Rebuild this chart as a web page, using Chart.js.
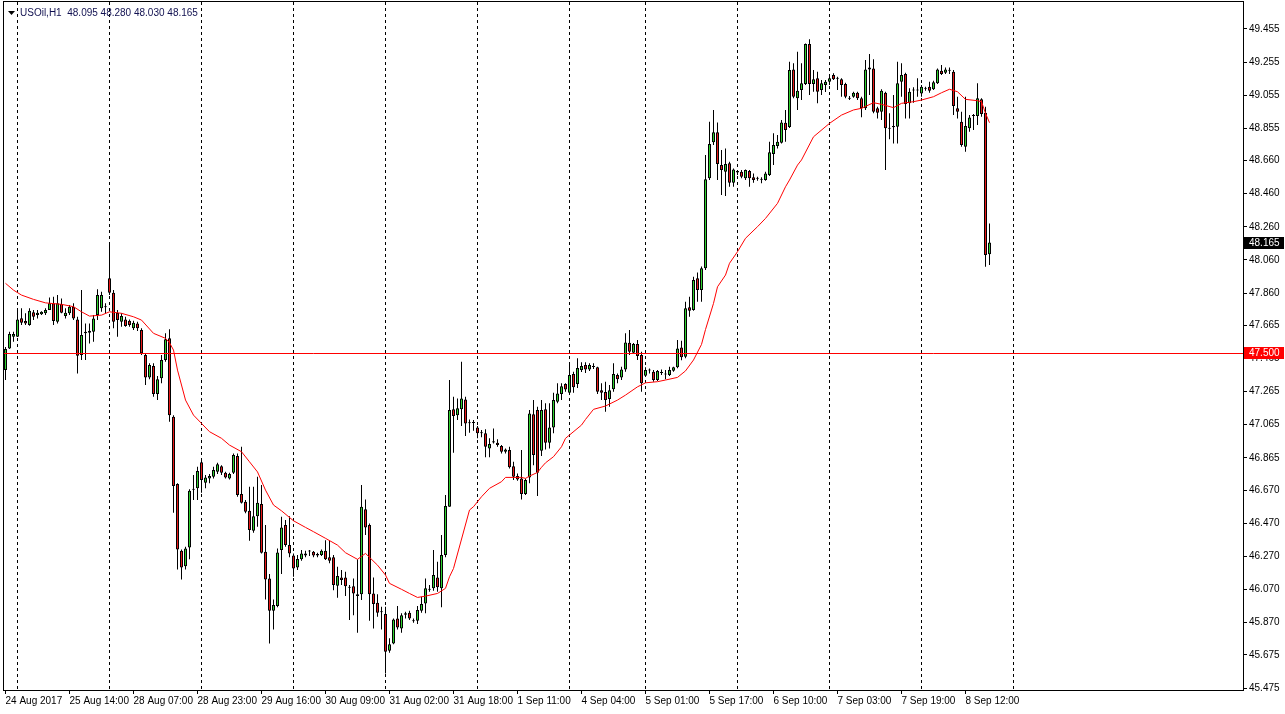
<!DOCTYPE html>
<html>
<head>
<meta charset="utf-8">
<script src="https://cdn.jsdelivr.net/npm/chart.js@4.4.0/dist/chart.umd.min.js"></script>
<style>
  html, body { margin: 0; padding: 0; background: #fff; }
  canvas { display: block; }
</style>
</head>
<body>
<canvas id="graficoUSOil" width="1285" height="714"></canvas>
<script>
// USOil H1
const headerText = 'USOil,H1  48.095 48.280 48.030 48.165';

const opens = [
  47.395, 47.526, 47.596, 47.596, 47.708, 47.691, 47.667, 47.744, 47.727, 47.733,
  47.738, 47.758, 47.798, 47.687, 47.794, 47.721, 47.738, 47.778, 47.701, 47.486,
  47.617, 47.621, 47.627, 47.727, 47.768, 47.774, 47.949, 47.862, 47.740, 47.687,
  47.701, 47.693, 47.647, 47.677, 47.637, 47.486, 47.351, 47.419, 47.250, 47.345,
  47.456, 47.587, 47.113, 46.707, 46.304, 46.211, 46.324, 46.672, 46.681, 46.838,
  46.715, 46.741, 46.751, 46.781, 46.815, 46.775, 46.741, 46.775, 46.876, 46.646,
  46.600, 46.545, 46.425, 46.513, 46.586, 46.298, 46.137, 45.942, 45.970, 46.308,
  46.459, 46.338, 46.276, 46.203, 46.252, 46.276, 46.300, 46.298, 46.284, 46.278,
  46.304, 46.264, 46.264, 46.093, 46.143, 46.143, 46.085, 46.090, 46.042, 46.042,
  46.554, 46.459, 46.046, 45.990, 45.938, 45.922, 45.700, 45.744, 45.895, 45.835,
  45.918, 45.929, 45.884, 45.881, 45.942, 45.986, 46.068, 46.077, 46.143, 46.077,
  46.278, 46.570, 47.158, 47.123, 47.158, 47.218, 47.080, 47.076, 47.049, 47.015,
  47.013, 46.922, 46.958, 46.956, 46.936, 46.902, 46.912, 46.815, 46.755, 46.741,
  46.646, 46.747, 47.129, 47.154, 46.908, 47.158, 46.956, 47.049, 47.204, 47.250,
  47.311, 47.258, 47.371, 47.311, 47.395, 47.425, 47.399, 47.419, 47.412, 47.274,
  47.262, 47.220, 47.279, 47.365, 47.351, 47.399, 47.560, 47.500, 47.552, 47.486,
  47.361, 47.397, 47.385, 47.335, 47.377, 47.375, 47.365, 47.391, 47.412, 47.532,
  47.476, 47.774, 47.758, 47.949, 47.878, 48.010, 48.553, 48.771, 48.831, 48.633,
  48.593, 48.644, 48.527, 48.597, 48.593, 48.553, 48.597, 48.559, 48.555, 48.549,
  48.543, 48.573, 48.700, 48.748, 48.768, 48.889, 48.863, 49.211, 49.036, 49.086,
  49.123, 49.364, 49.123, 49.157, 49.086, 49.117, 49.137, 49.177, 49.159, 49.151,
  49.123, 49.038, 49.046, 49.070, 49.036, 48.976, 49.223, 49.217, 48.976, 48.955,
  49.070, 48.857, 48.869, 48.865, 49.137, 49.183, 49.006, 49.088, 49.084, 49.066,
  49.094, 49.106, 49.091, 49.127, 49.203, 49.191, 49.205, 49.197, 48.976, 48.895,
  48.744, 48.855, 48.930, 48.929, 49.030, 48.949, 48.095
];
const highs = [
  47.534, 47.627, 47.627, 47.758, 47.768, 47.738, 47.768, 47.758, 47.758, 47.751,
  47.768, 47.834, 47.838, 47.848, 47.828, 47.768, 47.788, 47.798, 47.717, 47.878,
  47.677, 47.677, 47.727, 47.883, 47.868, 47.798, 48.150, 47.878, 47.758, 47.738,
  47.717, 47.701, 47.693, 47.687, 47.647, 47.496, 47.436, 47.436, 47.359, 47.486,
  47.617, 47.641, 47.123, 46.711, 46.312, 46.328, 46.675, 46.761, 46.811, 46.852,
  46.761, 46.767, 46.811, 46.835, 46.821, 46.781, 46.775, 46.892, 46.892, 46.932,
  46.610, 46.690, 46.690, 46.751, 46.701, 46.459, 46.163, 46.010, 46.318, 46.509,
  46.489, 46.513, 46.288, 46.278, 46.308, 46.304, 46.308, 46.302, 46.292, 46.312,
  46.368, 46.368, 46.278, 46.207, 46.187, 46.177, 46.097, 46.137, 46.252, 46.701,
  46.614, 46.469, 46.143, 46.042, 45.966, 45.966, 45.775, 45.895, 45.970, 45.926,
  45.935, 45.941, 45.895, 45.970, 46.026, 46.137, 46.097, 46.308, 46.238, 46.399,
  46.640, 47.335, 47.234, 47.224, 47.445, 47.234, 47.097, 47.093, 47.057, 47.033,
  47.037, 46.983, 47.043, 46.977, 46.942, 46.922, 46.932, 46.841, 46.771, 46.912,
  46.741, 47.154, 47.214, 47.174, 47.214, 47.194, 47.194, 47.258, 47.315, 47.315,
  47.315, 47.425, 47.385, 47.467, 47.443, 47.443, 47.437, 47.436, 47.415, 47.315,
  47.325, 47.305, 47.436, 47.375, 47.415, 47.617, 47.637, 47.558, 47.576, 47.506,
  47.412, 47.405, 47.395, 47.395, 47.399, 47.395, 47.415, 47.415, 47.576, 47.572,
  47.808, 47.838, 47.959, 47.984, 48.020, 48.694, 48.895, 48.966, 48.891, 48.724,
  48.734, 48.653, 48.613, 48.603, 48.603, 48.607, 48.603, 48.583, 48.563, 48.559,
  48.593, 48.774, 48.825, 48.815, 48.905, 48.966, 49.257, 49.248, 49.318, 49.248,
  49.368, 49.393, 49.207, 49.197, 49.147, 49.147, 49.167, 49.187, 49.167, 49.157,
  49.131, 49.050, 49.076, 49.076, 49.046, 49.268, 49.304, 49.272, 48.986, 49.091,
  49.076, 48.946, 49.056, 49.257, 49.248, 49.191, 49.097, 49.103, 49.157, 49.117,
  49.106, 49.137, 49.143, 49.217, 49.237, 49.223, 49.223, 49.207, 49.046, 48.955,
  49.046, 48.935, 48.941, 49.127, 49.036, 48.986, 48.280
];
const lows = [
  47.335, 47.522, 47.566, 47.595, 47.667, 47.667, 47.663, 47.697, 47.707, 47.727,
  47.727, 47.758, 47.667, 47.677, 47.738, 47.707, 47.727, 47.697, 47.375, 47.456,
  47.456, 47.556, 47.566, 47.697, 47.747, 47.738, 47.848, 47.647, 47.596, 47.657,
  47.657, 47.657, 47.637, 47.631, 47.486, 47.305, 47.339, 47.234, 47.214, 47.315,
  47.445, 47.083, 46.533, 46.191, 46.131, 46.191, 46.252, 46.610, 46.610, 46.654,
  46.681, 46.711, 46.741, 46.767, 46.761, 46.741, 46.735, 46.767, 46.630, 46.590,
  46.530, 46.364, 46.413, 46.449, 46.288, 46.010, 45.744, 45.829, 45.962, 46.163,
  46.328, 46.264, 46.147, 46.187, 46.244, 46.264, 46.272, 46.264, 46.264, 46.272,
  46.248, 46.228, 46.066, 46.020, 46.097, 46.030, 45.885, 45.915, 45.809, 46.006,
  46.399, 45.881, 45.835, 45.905, 45.829, 45.563, 45.688, 45.740, 45.829, 45.809,
  45.895, 45.885, 45.869, 45.861, 45.929, 45.926, 46.056, 46.062, 46.056, 45.962,
  46.264, 46.570, 46.896, 47.093, 47.057, 46.997, 47.017, 47.029, 46.983, 46.989,
  46.868, 46.868, 46.952, 46.932, 46.892, 46.892, 46.801, 46.731, 46.727, 46.614,
  46.640, 46.711, 46.821, 46.634, 46.876, 46.916, 46.922, 47.013, 47.194, 47.214,
  47.264, 47.244, 47.258, 47.287, 47.383, 47.377, 47.389, 47.401, 47.250, 47.214,
  47.143, 47.174, 47.264, 47.315, 47.335, 47.385, 47.486, 47.496, 47.456, 47.264,
  47.355, 47.375, 47.325, 47.329, 47.365, 47.339, 47.359, 47.385, 47.406, 47.455,
  47.466, 47.717, 47.753, 47.808, 47.808, 47.999, 48.543, 48.754, 48.543, 48.452,
  48.446, 48.502, 48.502, 48.573, 48.553, 48.543, 48.502, 48.527, 48.539, 48.523,
  48.539, 48.567, 48.633, 48.734, 48.764, 48.774, 48.857, 49.036, 48.966, 49.026,
  49.117, 49.056, 49.076, 49.006, 49.056, 49.074, 49.117, 49.147, 49.086, 49.046,
  49.036, 49.026, 49.040, 49.026, 48.922, 48.966, 49.056, 48.946, 48.915, 48.905,
  48.603, 48.789, 48.764, 48.764, 49.046, 48.915, 48.915, 49.010, 49.046, 49.046,
  49.082, 49.070, 49.086, 49.123, 49.177, 49.183, 49.183, 48.935, 48.915, 48.744,
  48.714, 48.835, 48.845, 48.875, 48.925, 48.019, 48.030
];
const closes = [
  47.522, 47.613, 47.613, 47.701, 47.681, 47.677, 47.753, 47.717, 47.741, 47.747,
  47.758, 47.798, 47.691, 47.798, 47.741, 47.741, 47.778, 47.707, 47.482, 47.607,
  47.627, 47.633, 47.707, 47.848, 47.848, 47.778, 47.862, 47.687, 47.697, 47.721,
  47.661, 47.667, 47.681, 47.647, 47.496, 47.351, 47.425, 47.250, 47.339, 47.456,
  47.581, 47.123, 46.695, 46.312, 46.203, 46.318, 46.666, 46.675, 46.785, 46.731,
  46.747, 46.755, 46.791, 46.827, 46.775, 46.747, 46.767, 46.882, 46.640, 46.594,
  46.539, 46.429, 46.513, 46.594, 46.292, 46.131, 45.942, 45.976, 46.294, 46.445,
  46.338, 46.288, 46.197, 46.254, 46.288, 46.288, 46.304, 46.276, 46.276, 46.304,
  46.252, 46.244, 46.097, 46.151, 46.127, 46.090, 46.080, 46.046, 46.030, 46.570,
  46.445, 46.042, 45.982, 45.929, 45.932, 45.694, 45.740, 45.889, 45.841, 45.915,
  45.926, 45.895, 45.878, 45.946, 45.982, 46.077, 46.074, 46.157, 46.083, 46.278,
  46.574, 47.154, 47.117, 47.164, 47.224, 47.073, 47.074, 47.080, 47.013, 47.013,
  46.932, 46.948, 46.965, 46.942, 46.902, 46.916, 46.808, 46.751, 46.735, 46.646,
  46.731, 47.133, 46.882, 46.775, 47.154, 46.956, 47.049, 47.214, 47.254, 47.298,
  47.278, 47.365, 47.291, 47.407, 47.419, 47.399, 47.425, 47.413, 47.264, 47.258,
  47.214, 47.274, 47.371, 47.339, 47.399, 47.562, 47.506, 47.552, 47.480, 47.315,
  47.395, 47.393, 47.335, 47.389, 47.381, 47.369, 47.395, 47.412, 47.526, 47.472,
  47.768, 47.753, 47.939, 47.878, 48.010, 48.547, 48.760, 48.831, 48.639, 48.603,
  48.639, 48.527, 48.607, 48.589, 48.563, 48.603, 48.553, 48.543, 48.551, 48.545,
  48.583, 48.710, 48.754, 48.774, 48.891, 48.845, 49.207, 49.046, 49.082, 49.127,
  49.364, 49.123, 49.151, 49.076, 49.127, 49.137, 49.157, 49.151, 49.155, 49.117,
  49.046, 49.034, 49.070, 49.036, 48.976, 49.211, 49.211, 48.955, 48.949, 49.082,
  48.855, 48.853, 48.861, 49.127, 49.177, 49.002, 49.076, 49.084, 49.088, 49.106,
  49.098, 49.082, 49.133, 49.211, 49.183, 49.211, 49.203, 48.990, 48.955, 48.754,
  48.869, 48.921, 48.934, 49.036, 48.941, 48.090, 48.165
];

const maBars = [
  0, 2, 4, 7, 10, 14, 17, 19, 21, 24, 26, 29, 32, 34, 37, 40, 41, 42, 43, 45,
  47, 49, 51, 54, 56, 59, 61, 63, 65, 67, 69, 72, 75, 77, 80, 83, 85, 88, 90, 91,
  93, 95, 96, 99, 101, 103, 105, 108, 110, 111, 112, 116, 117, 119, 121, 124, 125, 129, 130, 131,
  133, 134, 135, 137, 139, 140, 144, 145, 147, 150, 153, 155, 158, 160, 163, 165, 168, 170, 172, 174,
  175, 177, 178, 180, 181, 183, 185, 188, 190, 193, 195, 196, 198, 199, 202, 206, 209, 212, 214, 217,
  219, 222, 224, 227, 229, 232, 234, 236, 238, 240, 243, 244, 245, 246
];
const maValues = [
  47.919, 47.878, 47.848, 47.822, 47.801, 47.792, 47.778, 47.747, 47.721, 47.727, 47.747, 47.738, 47.717, 47.697, 47.617, 47.587, 47.560, 47.516, 47.395, 47.214,
  47.123, 47.073, 47.023, 46.983, 46.942, 46.902, 46.841, 46.780, 46.670, 46.580, 46.545, 46.485, 46.445, 46.419, 46.379, 46.338, 46.292, 46.252, 46.288, 46.264,
  46.217, 46.157, 46.107, 46.071, 46.046, 46.022, 46.030, 46.046, 46.077, 46.147, 46.197, 46.550, 46.570, 46.630, 46.681, 46.721, 46.747, 46.747, 46.741, 46.755,
  46.777, 46.808, 46.835, 46.872, 46.932, 46.983, 47.063, 47.097, 47.158, 47.178, 47.214, 47.244, 47.294, 47.318, 47.325, 47.335, 47.351, 47.390, 47.456, 47.550,
  47.640, 47.798, 47.898, 47.969, 48.040, 48.110, 48.191, 48.261, 48.311, 48.402, 48.502, 48.543, 48.633, 48.664, 48.804, 48.885, 48.935, 48.966, 48.976, 49.010,
  49.000, 48.980, 49.006, 49.016, 49.026, 49.046, 49.070, 49.091, 49.076, 49.030, 49.022, 49.016, 48.946, 48.889
];

const levelPrice = 47.5;
const lastPrice = 48.165;

const priceLabels = ['45.475', '45.675', '45.870', '46.070', '46.270', '46.470', '46.670',
  '46.865', '47.065', '47.265', '47.465', '47.665', '47.860', '48.060', '48.260', '48.460',
  '48.660', '48.855', '49.055', '49.255', '49.455'];
const timeLabels = ['24 Aug 2017', '25 Aug 14:00', '28 Aug 07:00', '28 Aug 23:00', '29 Aug 16:00',
  '30 Aug 09:00', '31 Aug 02:00', '31 Aug 18:00', '1 Sep 11:00', '4 Sep 04:00', '5 Sep 01:00',
  '5 Sep 17:00', '6 Sep 10:00', '7 Sep 03:00', '7 Sep 19:00', '8 Sep 12:00'];
const timeLabelBars = [0, 16, 32, 48, 64, 80, 96, 112, 128, 144, 160, 176, 192, 208, 224, 240];
const daySeparatorBars = [3, 26, 49, 72, 95, 118, 141, 160, 183, 206, 229, 252];

const VERDE = '#2fd22f';
const ROJO = '#e81818';
const fuente = { family: 'Liberation Sans', size: 10 };

const cuerpos = opens.map((o, i) => ({ x: i, y: [o, closes[i]] }));
const mechas = lows.map((l, i) => ({ x: i, y: [l, highs[i]] }));
const coloresCuerpo = opens.map((o, i) => closes[i] >= o ? VERDE : ROJO);
const media = maBars.map((b, i) => ({ x: b, y: maValues[i] }));

const decorado = {
  id: 'decorado',
  beforeDatasetsDraw(chart) {
    const { ctx, chartArea: a, scales: { x } } = chart;
    ctx.save();
    ctx.strokeStyle = '#000';
    ctx.lineWidth = 1;
    ctx.setLineDash([3, 3]);
    daySeparatorBars.forEach(b => {
      const px = Math.floor(x.getPixelForValue(b)) + 0.5;
      if (px < a.left || px > a.right) return;
      ctx.beginPath();
      ctx.moveTo(px, a.top);
      ctx.lineTo(px, a.bottom);
      ctx.stroke();
    });
    ctx.restore();
  },
  afterDatasetsDraw(chart) {
    const { ctx, chartArea: a, scales: { y } } = chart;
    const py = Math.round(y.getPixelForValue(levelPrice)) + 0.5;
    ctx.save();
    ctx.strokeStyle = '#ff0000';
    ctx.lineWidth = 1;
    ctx.beginPath();
    ctx.moveTo(a.left, py);
    ctx.lineTo(a.right, py);
    ctx.stroke();
    ctx.restore();
  },
  afterDraw(chart) {
    const { ctx, chartArea: a, scales: { y } } = chart;
    ctx.save();
    // marco
    ctx.strokeStyle = '#000';
    ctx.lineWidth = 1;
    ctx.strokeRect(a.left - 0.5, a.top - 0.5, a.right - a.left + 1, a.bottom - a.top + 1);
    // cabecera
    ctx.fillStyle = '#000';
    ctx.beginPath();
    ctx.moveTo(8, 11); ctx.lineTo(15, 11); ctx.lineTo(11.5, 15); ctx.closePath();
    ctx.fill();
    ctx.font = '10px "Liberation Sans"';
    ctx.textBaseline = 'middle';
    ctx.fillStyle = '#101050';
    ctx.fillText(headerText, 20, 13);
    // etiquetas de precio
    const etiqueta = (valor, fondo) => {
      const py = Math.round(y.getPixelForValue(valor));
      ctx.fillStyle = fondo;
      ctx.fillRect(a.right + 1, py - 6, 40, 12);
      ctx.fillStyle = '#fff';
      ctx.fillText(valor.toFixed(3), a.right + 6, py + 0.5);
    };
    etiqueta(lastPrice, '#000');
    etiqueta(levelPrice, '#ff0000');
    ctx.restore();
  }
};

new Chart(document.getElementById('graficoUSOil'), {
  type: 'bar',
  data: {
    datasets: [
      {
        type: 'line',
        data: media,
        borderColor: '#ff0000',
        borderWidth: 1,
        pointRadius: 0,
        tension: 0,
        order: 0
      },
      {
        data: cuerpos,
        backgroundColor: coloresCuerpo,
        borderColor: '#000',
        borderWidth: 1,
        borderSkipped: false,
        barThickness: 3,
        minBarLength: 1,
        inflateAmount: 0,
        grouped: false,
        order: 1
      },
      {
        data: mechas,
        backgroundColor: '#000',
        borderWidth: 0,
        barThickness: 1,
        inflateAmount: 0,
        grouped: false,
        order: 2
      }
    ]
  },
  options: {
    responsive: false,
    animation: false,
    devicePixelRatio: 1,
    layout: { padding: { left: 4, top: 2, right: 0, bottom: 0 } },
    plugins: {
      legend: { display: false },
      title: { display: false },
      tooltip: { enabled: false }
    },
    scales: {
      x: {
        type: 'linear',
        offset: false,
        min: -0.375,
        max: 309.375,
        afterFit(s) { s.height = 24; s.paddingLeft = 0; s.paddingRight = 0; },
        afterBuildTicks(s) { s.ticks = timeLabelBars.map(b => ({ value: b })); },
        ticks: {
          callback: (v, i) => timeLabels[i],
          align: 'start',
          autoSkip: false,
          maxRotation: 0,
          padding: 1,
          color: '#000',
          font: fuente
        },
        grid: { drawOnChartArea: false, offset: false, tickLength: 4, color: '#000' },
        border: { display: false }
      },
      y: {
        position: 'right',
        min: 45.463,
        max: 49.618,
        afterFit(s) { s.width = 42; s.paddingTop = 0; s.paddingBottom = 0; },
        afterBuildTicks(s) { s.ticks = priceLabels.map(t => ({ value: parseFloat(t) })); },
        ticks: {
          callback: (v, i) => priceLabels[i],
          autoSkip: false,
          padding: 2,
          color: '#000',
          font: fuente
        },
        grid: { drawOnChartArea: false, tickLength: 4, color: '#000' },
        border: { display: false }
      }
    }
  },
  plugins: [decorado]
});
</script>
</body>
</html>
